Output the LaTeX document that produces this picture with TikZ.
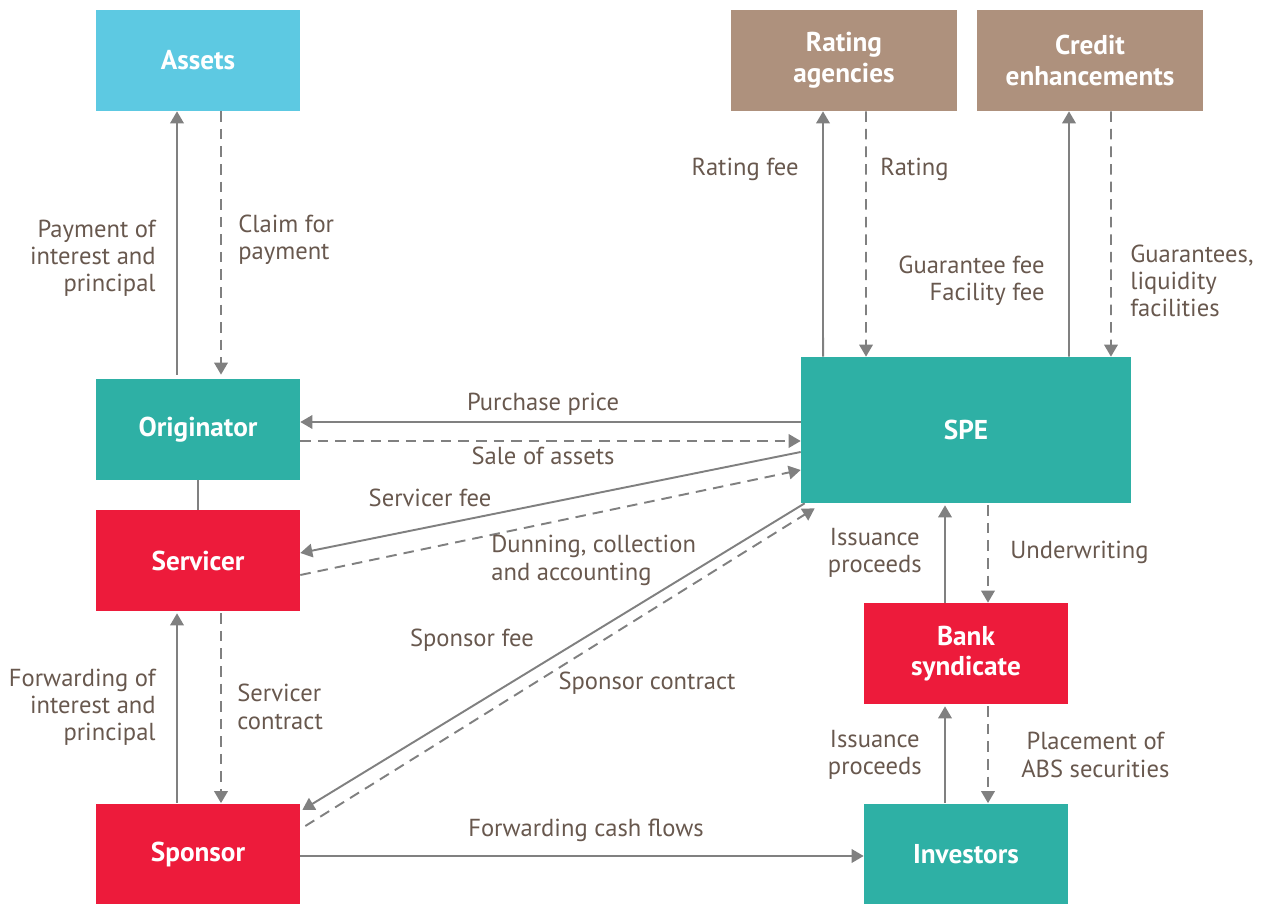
\documentclass[tikz,border=0pt]{standalone}
\usepackage{fontspec}
\setmainfont{PT Sans}
\usepackage{tikz}
\usetikzlibrary{arrows.meta}
\definecolor{teal1}{RGB}{46,176,165}
\definecolor{red1}{RGB}{237,27,59}
\definecolor{blue1}{RGB}{93,201,226}
\definecolor{brown1}{RGB}{174,145,125}
\definecolor{txt1}{RGB}{104,88,78}
\definecolor{line1}{RGB}{128,128,128}
\tikzstyle{box1}=[rectangle, fill=teal1, minimum width=4.08cm, minimum height=2.02cm,
        align=center, text=white, font=\fontsize{15.5}{17.5}\selectfont\bfseries]
\tikzstyle{box2}=[box1, fill=red1]
\tikzstyle{box3}=[box1, fill=blue1]
\tikzstyle{box4}=[box1, fill=brown1, minimum width=4.52cm]
\tikzstyle{lbl}=[inner sep=0pt, text=txt1, font=\fontsize{14}{15.5}\selectfont]
\tikzstyle{pay}=[draw=line1, line width=1.1pt, -{Triangle[length=0.24cm,width=0.27cm]}]
\tikzstyle{flow}=[pay, dash pattern=on 6pt off 4pt]

\begin{document}
\begin{tikzpicture}[x=0.02cm, y=-0.02cm]
\useasboundingbox (0,0) rectangle (1272,905);
\node [box3] (assets) at (198,60.5) {Assets};
\node [box1] (orig) at (198,429.5) {Originator};
\node [box2] (serv) at (198,560.5) {Servicer};
\node [box2] (spons) at (198,854) {Sponsor};
\node [box4] (rate) at (844,60.5) {Rating\\agencies};
\node [box4] (credit) at (1090,60.5) {Credit\\enhancements};
\node [box1, minimum width=6.6cm, minimum height=2.92cm] (spe) at (966,430) {SPE};
\node [box2] (bank) at (966,653.5) {Bank\\syndicate};
\node [box1] (inv) at (966,854) {Investors};

\draw [pay] ([xshift=-0.42cm, yshift=0.08cm]orig.north) -- ([xshift=-0.42cm]assets.south);
\draw [flow] ([xshift=0.46cm]assets.south) -- ([xshift=0.46cm, yshift=0.08cm]orig.north);
\draw [line1, line width=1.1pt] (orig.south) -- (serv.north);
\draw [pay] ([xshift=-0.42cm]spons.north) -- ([xshift=-0.42cm, yshift=-0.04cm]serv.south);
\draw [flow] ([xshift=0.46cm, yshift=-0.04cm]serv.south) -- ([xshift=0.46cm]spons.north);

\draw [pay] ([yshift=0.15cm]orig.east -| spe.west) -- ([yshift=0.15cm]orig.east);
\draw [flow] ([yshift=-0.23cm]orig.east) -- ([yshift=-0.23cm]orig.east -| spe.west);
\draw [pay] ([yshift=-0.44cm]spe.west) -- ([yshift=0.15cm]serv.east);
\draw [flow] ([yshift=-0.29cm]serv.east) -- ([yshift=-0.8cm]spe.west);
\draw [pay] ([xshift=0.08cm]spe.south west) -- ([xshift=0.04cm, yshift=0.88cm]spons.east);
\draw [flow] ([xshift=0.1cm, yshift=0.56cm]spons.east) -- ([xshift=0.28cm, yshift=-0.1cm]spe.south west);
\draw [pay] ([yshift=-0.04cm]spons.east) -- ([yshift=-0.04cm]inv.west);

\draw [pay] ([xshift=-2.86cm]spe.north) -- ([xshift=-0.42cm]rate.south);
\draw [flow] ([xshift=0.44cm]rate.south) -- ([xshift=-2.0cm]spe.north);
\draw [pay] ([xshift=2.06cm]spe.north) -- ([xshift=-0.42cm]credit.south);
\draw [flow] ([xshift=0.42cm]credit.south) -- ([xshift=2.9cm]spe.north);
\draw [pay] ([xshift=-0.42cm]bank.north) -- ([xshift=-0.42cm, yshift=-0.04cm]spe.south);
\draw [flow] ([xshift=0.44cm, yshift=-0.04cm]spe.south) -- ([xshift=0.44cm]bank.north);
\draw [pay] ([xshift=-0.42cm]inv.north) -- ([xshift=-0.42cm, yshift=-0.04cm]bank.south);
\draw [flow] ([xshift=0.44cm, yshift=-0.04cm]bank.south) -- ([xshift=0.44cm]inv.north);

\node [lbl, anchor=east, align=right] (l1) at (156,258) {Payment of\\interest and\\principal};
\node [lbl, anchor=west, align=left] (l2) at (238,240) {Claim for\\payment};
\node [lbl, anchor=east, align=right] (l3) at (156,707) {Forwarding of\\interest and\\principal};
\node [lbl, anchor=west, align=left] (l4) at (237,707) {Servicer\\contract};
\node [lbl] (l5) at (543,404) {Purchase price};
\node [lbl] (l6) at (543,456) {Sale of assets};
\node [lbl] (l7) at (430,498) {Servicer fee};
\node [lbl, anchor=west, align=left] (l8) at (491,560.5) {Dunning, collection\\and accounting};
\node [lbl] (l9) at (472,640) {Sponsor fee};
\node [lbl] (l10) at (647,683) {Sponsor contract};
\node [lbl] (l11) at (586,830) {Forwarding cash flows};
\node [lbl, anchor=east] (l12) at (799,169) {Rating fee};
\node [lbl, anchor=west] (l13) at (880,169) {Rating};
\node [lbl, anchor=east, align=right] (l14) at (1045,281) {Guarantee fee\\Facility fee};
\node [lbl, anchor=west, align=left] (l15) at (1130,281) {Guarantees,\\liquidity\\facilities};
\node [lbl, anchor=east, align=center] (l16) at (922,553) {Issuance\\proceeds};
\node [lbl, anchor=west] (l17) at (1010,552) {Underwriting};
\node [lbl, anchor=east, align=center] (l18) at (922,755) {Issuance\\proceeds};
\node [lbl, anchor=west, align=center] (l19) at (1021,755) {Placement of\\ABS securities};
\end{tikzpicture}
\end{document}
